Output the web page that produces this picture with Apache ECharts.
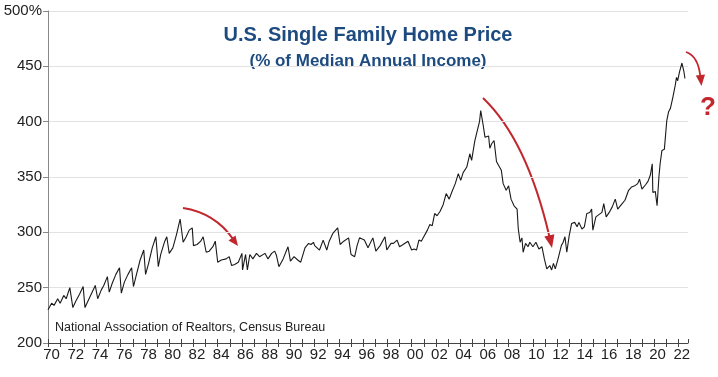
<!DOCTYPE html>
<html>
<head>
<meta charset="utf-8">
<script src="https://cdn.jsdelivr.net/npm/echarts@6/dist/echarts.min.js"></script>
<style>html,body{margin:0;padding:0;background:#fff}#c{width:718px;height:377px}</style>
</head>
<body>
<div id="c"></div>
<script>
// ---- data (year position, % of median annual income) ----
const years1970s = [1970.0,1970.3,1970.5,1970.8,1971.0,1971.3,1971.5,1971.8,1972.05,1972.3,1972.6,1972.9,1973.05,1973.3,1973.6,1973.9,1974.1,1974.4,1974.6,1974.9,1975.05,1975.3,1975.6,1975.9,1976.05,1976.3,1976.6,1976.9,1977.05,1977.3,1977.6,1977.9,1978.05,1978.3,1978.6,1978.9,1979.1,1979.3,1979.6,1979.8];
const values1970s = [230,236,234,240,236,243,240,250,232,238,244,251,232,238,245,252,240,248,252,260,246,254,262,268,245,255,262,268,251,262,275,284,262,272,286,296,269,280,291,296];

const years1980s = [1980.0,1980.3,1980.6,1980.9,1981.15,1981.4,1981.65,1981.9,1982.0,1982.3,1982.6,1982.8,1983.05,1983.3,1983.6,1983.8,1984.0,1984.3,1984.7,1984.95,1985.15,1985.4,1985.7,1986.0,1986.05,1986.3,1986.45,1986.65,1986.9,1987.2,1987.45,1987.9,1988.15,1988.45,1988.7,1988.85,1989.05,1989.4,1989.8];
const values1980s = [281,286,298,312,291,296,302,304,288,289,292,296,282,283,287,292,273,275,276,278,270,271,273,281,266,280,266,280,276,281,278,281,276,281,283,279,269,276,287];

const years1990s = [1990.0,1990.3,1990.6,1990.85,1991.2,1991.5,1991.7,1991.9,1992.0,1992.4,1992.7,1993.0,1993.2,1993.5,1993.9,1994.1,1994.4,1994.8,1995.0,1995.3,1995.5,1995.7,1996.1,1996.4,1996.8,1997.05,1997.4,1997.8,1997.95,1998.3,1998.5,1998.8,1999.0,1999.3,1999.7];
const values1990s = [274,278,275,273,286,290,289,291,288,284,293,284,292,299,304,289,292,295,280,278,288,295,293,286,295,283,288,296,284,290,290,293,287,289,292];

const years2000s = [2000.0,2000.2,2000.4,2000.6,2000.8,2001.0,2001.3,2001.5,2001.7,2001.9,2002.1,2002.35,2002.6,2002.85,2003.1,2003.3,2003.6,2003.85,2004.05,2004.25,2004.55,2004.8,2004.95,2005.2,2005.35,2005.6,2005.7,2005.9,2006.05,2006.2,2006.35,2006.45,2006.6,2006.8,2007.0,2007.2,2007.4,2007.55,2007.65,2007.8,2008.0,2008.2,2008.45,2008.7,2008.8,2008.95,2009.1,2009.2,2009.4,2009.6,2009.75];
const values2000s = [284,285,284,293,292,296,302,307,306,317,315,319,325,335,330,336,344,353,347,354,359,371,365,382,389,400,410,397,386,385,387,376,380,383,364,360,356,344,343,338,342,330,324,321,303,291,295,282,290,287,291];

const years2010s = [2010.0,2010.25,2010.5,2010.75,2010.95,2011.15,2011.4,2011.55,2011.7,2011.85,2012.1,2012.35,2012.5,2012.65,2012.8,2013.0,2013.2,2013.45,2013.65,2013.8,2014.05,2014.25,2014.45,2014.7,2014.85,2014.95,2015.2,2015.45,2015.7,2015.85,2016.05,2016.3,2016.55,2016.8,2017.0,2017.3,2017.6,2017.9,2018.15,2018.4,2018.65,2018.8,2019.0,2019.3,2019.5,2019.7,2019.85,2019.9];
const values2010s = [287,291,285,287,276,267,270,266,272,267,277,288,291,296,282,297,308,309,305,309,303,305,317,318,321,302,314,316,318,326,314,318,323,330,321,325,329,338,341,342,344,348,339,343,346,352,362,336];

const years2020s = [2020.1,2020.25,2020.4,2020.5,2020.65,2020.85,2021.05,2021.2,2021.35,2021.55,2021.75,2021.85,2021.95,2022.1,2022.3,2022.45,2022.55];
const values2020s = [337,324,350,362,374,375,401,409,412,422,433,440,437,445,453,446,439];

const yTicks = [200,250,300,350,400,450,500];
const titleText = 'U.S. Single Family Home Price';
const subtitleText = '(% of Median Annual Income)';
const sourceText = 'National Association of Realtors, Census Bureau';

// ---- build series ----
const allYears = [].concat(years1970s, years1980s, years1990s, years2000s, years2010s, years2020s);
const allValues = [].concat(values1970s, values1980s, values1990s, values2000s, values2010s, values2020s);
const seriesData = allYears.map((y, i) => [y, allValues[i]]);

const RED = '#c1272d';
const BLUE = '#1d4b80';
const FONT = 'Liberation Sans, Arial, sans-serif';

const chart = echarts.init(document.getElementById('c'), null, {renderer: 'canvas'});
chart.setOption({
  animation: false,
  backgroundColor: '#fff',
  grid: {left: 48, right: 30, top: 11, bottom: 34},
  xAxis: [{
    type: 'value', min: 1970, max: 2022.8, interval: 1,
    axisLine: {show: true, lineStyle: {color: '#444', width: 1}},
    axisTick: {show: true, length: 4, lineStyle: {color: '#444'}},
    splitLine: {show: false},
    axisLabel: {
      fontFamily: 'Liberation Sans Narrow, Liberation Sans, Arial, sans-serif', fontSize: 15, color: '#222', margin: 4,
      padding: [0, 0, 0, 7], showMaxLabel: false,
      formatter: v => (Math.round(v) % 2 === 0) ? String(Math.round(v) % 100).padStart(2, '0') : ''
    }
  }, {
    type: 'value', min: 1970, max: 2022.8, interval: 1, position: 'bottom', offset: 0,
    axisLine: {show: false},
    axisTick: {show: true, inside: true, length: 4, lineStyle: {color: '#444'}},
    axisLabel: {show: false}, splitLine: {show: false}
  }],
  yAxis: {
    type: 'value', min: 200, max: 500, interval: 50,
    axisLine: {show: true, lineStyle: {color: '#888', width: 1}},
    axisTick: {show: true, length: 5, lineStyle: {color: '#888'}},
    splitLine: {show: true, lineStyle: {color: '#e2e2e2', width: 1}},
    axisLabel: {
      fontFamily: FONT, fontSize: 15, color: '#222', margin: 6,
      formatter: v => yTicks.indexOf(v) === yTicks.length - 1 ? v + '%' : String(v)
    }
  },
  series: [{
    type: 'line', data: seriesData, showSymbol: false, xAxisIndex: 0,
    lineStyle: {color: '#1a1a1a', width: 1.1}, silent: true
  }],
  graphic: [
    {type: 'text', x: 368, y: 35, style: {text: titleText, font: 'bold 20px ' + FONT, fill: BLUE, textAlign: 'center', textVerticalAlign: 'middle'}},
    {type: 'text', x: 368, y: 61, style: {text: subtitleText, font: 'bold 17px ' + FONT, fill: BLUE, textAlign: 'center', textVerticalAlign: 'middle', backgroundColor: '#fff', padding: [2, 8]}},
    {type: 'text', x: 55, y: 328, style: {text: sourceText, font: '12.5px ' + FONT, fill: '#222', textAlign: 'left', textVerticalAlign: 'middle'}},
    {type: 'bezierCurve', shape: {x1: 183, y1: 208, x2: 233, y2: 239, cpx1: 215, cpy1: 213}, style: {stroke: RED, lineWidth: 2, fill: null}},
    {type: 'polygon', shape: {points: [[238, 246], [228.5, 240.5], [235.5, 235.5]]}, style: {fill: RED}},
    {type: 'bezierCurve', shape: {x1: 483, y1: 98, x2: 549.5, y2: 237, cpx1: 527, cpy1: 140}, style: {stroke: RED, lineWidth: 2, fill: null}},
    {type: 'polygon', shape: {points: [[552, 248], [544.3, 236.4], [554.4, 234.2]]}, style: {fill: RED}},
    {type: 'bezierCurve', shape: {x1: 686, y1: 52, x2: 700.3, y2: 76, cpx1: 698, cpy1: 56}, style: {stroke: RED, lineWidth: 1.8, fill: null}},
    {type: 'polygon', shape: {points: [[701.5, 86], [695.8, 75.4], [705, 74.5]]}, style: {fill: RED}},
    {type: 'text', x: 708, y: 108, style: {text: '?', font: 'bold 26px ' + FONT, fill: RED, textAlign: 'center', textVerticalAlign: 'middle'}}
  ]
});
</script>
</body>
</html>
